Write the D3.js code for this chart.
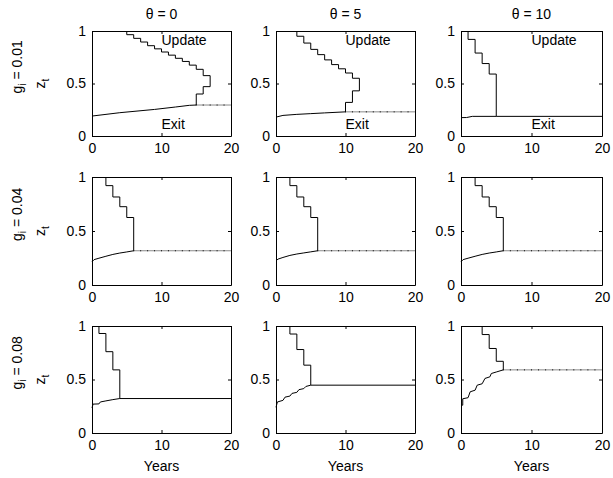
<!DOCTYPE html>
<html>
<head>
<meta charset="utf-8">
<script src="https://cdn.jsdelivr.net/npm/d3@7"></script>
<style>
  body { margin: 0; background: #fff; }
  svg text { font-family: "Liberation Sans", Arial, sans-serif; font-size: 14px; fill: #000; }
</style>
</head>
<body>
<div id="chart"></div>
<script>
const THETA = [0, 5, 10];
const G_I = ["0.01", "0.04", "0.08"];
const X_TICKS = [0, 10, 20];
const Y_TICKS = [0, 0.5, 1];
const X_MAX = 20;

// update boundary corners [years, z_t], drawn as down-then-across stairs
const update_01_0 = [[5, 1], [6, 0.965], [7, 0.93], [8, 0.895], [9, 0.86], [10, 0.83], [11, 0.8], [12, 0.77],
  [13, 0.74], [14, 0.71], [15, 0.675], [16, 0.635], [17, 0.575], [16, 0.47], [15, 0.4], [15, 0.295]];
const update_01_5 = [[3, 1], [4, 0.95], [5, 0.885], [6, 0.825], [7, 0.775], [8, 0.725], [9, 0.68], [10, 0.64],
  [11, 0.6], [12, 0.55], [11, 0.43], [10, 0.32], [10, 0.23]];
const update_01_10 = [[1, 1], [2, 0.92], [3, 0.79], [4, 0.69], [5, 0.59], [5, 0.187]];
const update_04_0 = [[2, 1], [3, 0.92], [4, 0.815], [5, 0.725], [6, 0.625], [6, 0.317]];
const update_04_5 = [[2, 1], [3, 0.92], [4, 0.815], [5, 0.725], [6, 0.625], [6, 0.317]];
const update_04_10 = [[2, 1], [3, 0.92], [4, 0.815], [5, 0.725], [6, 0.625], [6, 0.317]];
const update_08_0 = [[1, 1], [2, 0.93], [3, 0.76], [4, 0.59], [4, 0.322]];
const update_08_5 = [[2, 1], [3, 0.925], [4, 0.78], [5, 0.634], [5, 0.447]];
const update_08_10 = [[3, 1], [4, 0.92], [5, 0.79], [6, 0.67], [6, 0.59]];

// exit boundary [years, z_t]
const exit_01_0 = [[0, 0.19], [4, 0.222], [9, 0.253], [12, 0.276], [14, 0.292], [15, 0.295]];
const exit_01_5 = [[0, 0.18], [1, 0.196], [3, 0.206], [5, 0.213], [7, 0.22], [10, 0.23]];
const exit_01_10 = [[0, 0.175], [0.8, 0.176], [1.6, 0.187], [5, 0.187]];
const exit_04_0 = [[0, 0.215], [0.3, 0.235], [1, 0.248], [2, 0.266], [3, 0.283], [4, 0.296], [5, 0.306], [6, 0.317]];
const exit_04_5 = [[0, 0.225], [0.3, 0.24], [1, 0.255], [2, 0.274], [3, 0.287], [4, 0.297], [5, 0.307], [6, 0.317]];
const exit_04_10 = [[0, 0.215], [0.3, 0.235], [1, 0.248], [2, 0.266], [3, 0.283], [4, 0.296], [5, 0.306], [6, 0.317]];
const exit_08_0 = [[0, 0.235], [0.15, 0.27], [1, 0.272], [1.2, 0.29], [2, 0.3], [3, 0.312], [4, 0.322]];
const exit_08_5 = [[0, 0.24], [0.2, 0.29], [1, 0.305], [1.3, 0.335], [2, 0.345], [2.3, 0.37], [3, 0.38],
  [3.3, 0.405], [4, 0.415], [4.3, 0.435], [5, 0.447]];
const exit_08_10 = [[0, 0.26], [0.25, 0.26], [0.25, 0.32], [1, 0.33], [1.3, 0.385], [2, 0.4], [2.3, 0.447],
  [3, 0.46], [3.4, 0.51], [4.1, 0.525], [4.3, 0.556], [5, 0.57], [6, 0.59]];

const UPDATES = [
  [update_01_0, update_01_5, update_01_10],
  [update_04_0, update_04_5, update_04_10],
  [update_08_0, update_08_5, update_08_10]
];
const EXITS = [
  [exit_01_0, exit_01_5, exit_01_10],
  [exit_04_0, exit_04_5, exit_04_10],
  [exit_08_0, exit_08_5, exit_08_10]
];
// horizontal continuation drawn grey/dotted (true) or black (false)
const GREY_TAIL = [[true, true, false], [true, true, true], [false, false, true]];

const WIDTH = 613, HEIGHT = 478;
const COL_LEFT = [92, 276, 461], COL_RIGHT = [231, 415, 602];
const ROW_TOP = [31, 177, 326], ROW_BOTTOM = [136, 285, 433];
const TICK = 3;

var svg = d3.select("#chart").append("svg")
  .attr("width", WIDTH)
  .attr("height", HEIGHT);

function draw_panel(r, c) {
  var x = d3.scaleLinear().domain([0, X_MAX]).range([COL_LEFT[c], COL_RIGHT[c]]);
  var y = d3.scaleLinear().domain([0, 1]).range([ROW_BOTTOM[r], ROW_TOP[r]]);
  var g = svg.append("g");

  // box with inward ticks on all four sides (matlab style)
  g.append("g").attr("transform", "translate(0," + ROW_BOTTOM[r] + ")")
    .call(d3.axisBottom(x).tickValues(X_TICKS).tickSize(-TICK).tickSizeOuter(0).tickPadding(7));
  g.append("g").attr("transform", "translate(0," + ROW_TOP[r] + ")")
    .call(d3.axisTop(x).tickValues(X_TICKS).tickSize(-TICK).tickSizeOuter(0).tickFormat(""));
  g.append("g").attr("transform", "translate(" + COL_LEFT[c] + ",0)")
    .call(d3.axisLeft(y).tickValues(Y_TICKS).tickSize(-TICK).tickSizeOuter(0).tickPadding(6)
      .tickFormat(d3.format("")));
  g.append("g").attr("transform", "translate(" + COL_RIGHT[c] + ",0)")
    .call(d3.axisRight(y).tickValues(Y_TICKS).tickSize(-TICK).tickSizeOuter(0).tickFormat(""));
  g.selectAll(".domain, .tick line").attr("stroke", "#000");
  g.selectAll(".tick text").attr("font-size", null).attr("font-family", null);

  var exit = EXITS[r][c];
  var last = exit[exit.length - 1];
  var grey = GREY_TAIL[r][c];

  // continuation of the exit level out to 20 years
  g.append("line")
    .attr("x1", x(last[0])).attr("x2", x(X_MAX))
    .attr("y1", y(last[1])).attr("y2", y(last[1]))
    .attr("stroke", grey ? "#8a8a8a" : "#000")
    .attr("stroke-width", 1);
  if (grey) {
    g.selectAll(".dot")
      .data(d3.range(Math.ceil(last[0]), X_MAX))
      .enter().append("rect")
      .attr("x", d => x(d) - 0.5).attr("y", y(last[1]) - 0.5)
      .attr("width", 1).attr("height", 1)
      .attr("fill", "#000");
  }

  g.append("path")
    .datum(exit)
    .attr("fill", "none").attr("stroke", "#000").attr("stroke-width", 1)
    .attr("d", d3.line().x(d => x(d[0])).y(d => y(d[1])));

  g.append("path")
    .datum(UPDATES[r][c])
    .attr("fill", "none").attr("stroke", "#000").attr("stroke-width", 1)
    .attr("d", d3.line().curve(d3.curveStepBefore).x(d => x(d[0])).y(d => y(d[1])));

  if (r === 0) {
    g.append("text").attr("x", (COL_LEFT[c] + COL_RIGHT[c]) / 2).attr("y", 18.5)
      .attr("text-anchor", "middle").text("\u03b8 = " + THETA[c]);
    g.append("text").attr("x", x(10)).attr("y", y(0.91)).attr("dy", "0.35em").text("Update");
    g.append("text").attr("x", x(10)).attr("y", y(0.115)).attr("dy", "0.35em").text("Exit");
  }
  if (r === 2) {
    g.append("text").attr("x", (COL_LEFT[c] + COL_RIGHT[c]) / 2).attr("y", 470.5)
      .attr("text-anchor", "middle").text("Years");
  }
  if (c === 0) {
    var mid = (ROW_TOP[r] + ROW_BOTTOM[r]) / 2;
    var lab = g.append("text").attr("transform", "translate(22," + (mid + 10) + ") rotate(-90)");
    lab.append("tspan").text("g");
    lab.append("tspan").attr("dy", 4).attr("font-size", "10px").text("i");
    lab.append("tspan").attr("dy", -4).text(" = " + G_I[r]);

    var zl = g.append("text").attr("transform", "translate(45," + mid + ") rotate(-90)")
      .attr("text-anchor", "middle");
    zl.append("tspan").text("z");
    zl.append("tspan").attr("dy", 4).attr("font-size", "10px").text("t");
  }
}

for (var r = 0; r < 3; r++) {
  for (var c = 0; c < 3; c++) {
    draw_panel(r, c);
  }
}
</script>
</body>
</html>
